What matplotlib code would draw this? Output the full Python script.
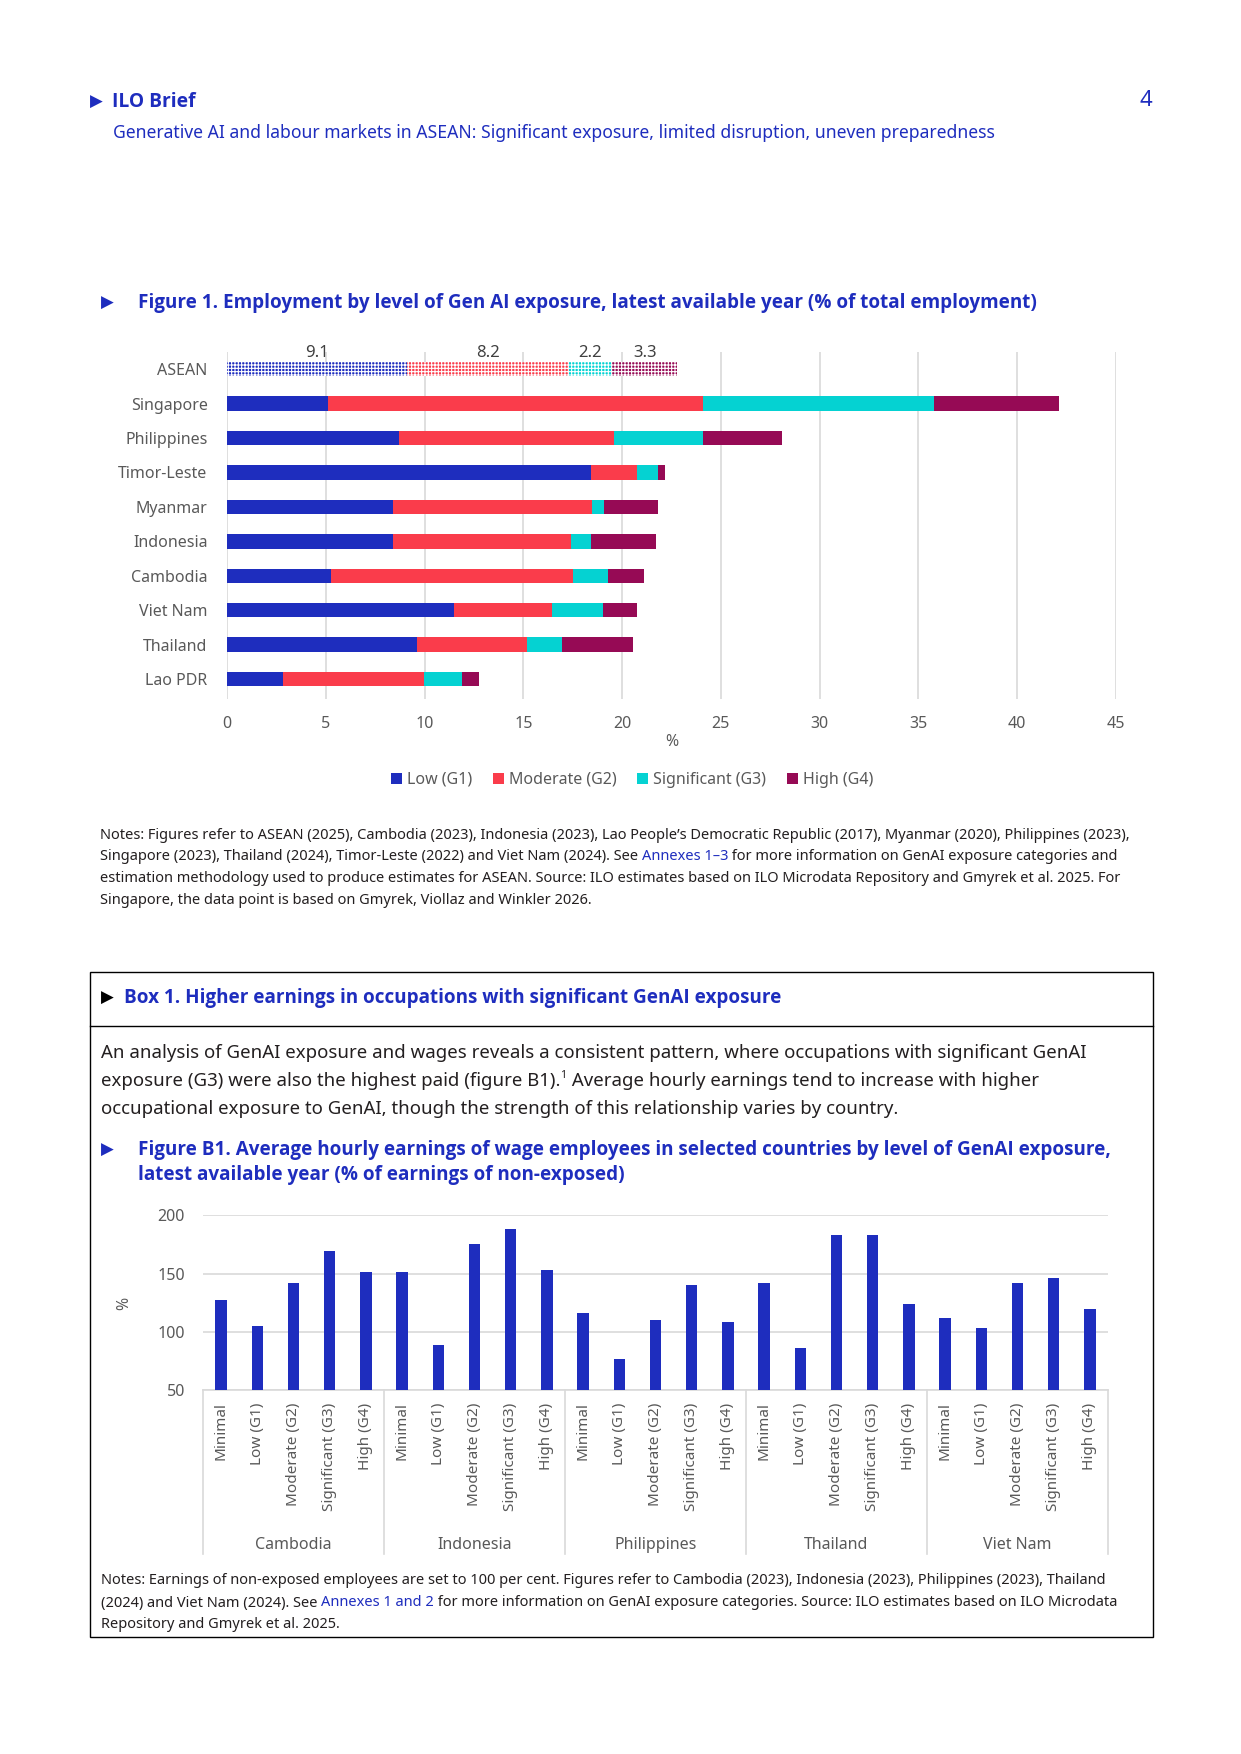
import numpy as np
import matplotlib
matplotlib.use("Agg")
import matplotlib.pyplot as plt
from matplotlib.patches import Patch, Rectangle
from matplotlib.lines import Line2D

plt.rcParams["font.family"] = ["Noto Sans", "DejaVu Sans"]
plt.rcParams["hatch.linewidth"] = 0.8

#
# Data
#

countries = ["ASEAN", "Singapore", "Philippines", "Timor-Leste", "Myanmar",
             "Indonesia", "Cambodia", "Viet Nam", "Thailand", "Lao PDR"]
low_g1 = [9.1, 5.1, 8.7, 18.45, 8.4, 8.4, 5.25, 11.5, 9.6, 2.85]
moderate_g2 = [8.2, 19.0, 10.9, 2.3, 10.1, 9.0, 12.25, 4.95, 5.6, 7.1]
significant_g3 = [2.2, 11.7, 4.5, 1.05, 0.6, 1.05, 1.8, 2.6, 1.75, 1.95]
high_g4 = [3.3, 6.3, 4.0, 0.35, 2.7, 3.25, 1.8, 1.7, 3.6, 0.85]
series_names = ["Low (G1)", "Moderate (G2)", "Significant (G3)", "High (G4)"]

b1_countries = ["Cambodia", "Indonesia", "Philippines", "Thailand", "Viet Nam"]
b1_levels = ["Minimal", "Low (G1)", "Moderate (G2)", "Significant (G3)", "High (G4)"]
b1_cambodia = [127, 105, 142, 169, 151]
b1_indonesia = [151, 88.5, 175, 188, 153]
b1_philippines = [116, 76.5, 110, 140, 108]
b1_thailand = [142, 86.5, 183, 183, 124]
b1_vietnam = [112, 103, 141.5, 146.5, 119.5]

# Colours
blue = "#1E2DBE"
red = "#FA3C4B"
cyan = "#05D2D2"
purple = "#960A55"
seg_colors = [blue, red, cyan, purple]
grey_text = "#595959"
grid_grey = "#D9D9D9"
body = "#231F20"

# bold headings (Noto Sans has no bold face here)
bold_font = ["Open Sans", "DejaVu Sans"]

W, H = 1241, 1754
fig = plt.figure(figsize=(W / 100, H / 100), dpi=100)


def fx(x):
    return x / W


def fy(y):
    return 1 - y / H


def ax_rect(left, top, right, bottom):
    return [fx(left), fy(bottom), (right - left) / W, (bottom - top) / H]


renderer = fig.canvas.get_renderer()


def text_row(x, y, pieces, size, **kw):
    # draw coloured pieces of one line one after another
    # a piece may carry its own size and a vertical shift (for superscripts)
    for p in pieces:
        s, c = p[0], p[1]
        sz = p[2] if len(p) > 2 else size
        dy = p[3] if len(p) > 3 else 0
        t = fig.text(fx(x), fy(y - dy), s, color=c, fontsize=sz, va="center", ha="left", **kw)
        bb = t.get_window_extent(renderer=renderer)
        x += bb.width


def heading(x, y, s, size=13.6, color=blue):
    fig.text(fx(x), fy(y), s, color=color, fontsize=size, weight="bold", va="center", family=bold_font)


def arrow(x, y, color=blue):
    fig.text(fx(x), fy(y), "\u25B6", color=color, fontsize=12, va="center", family=["DejaVu Sans"])


#
# Header
#
arrow(90, 102)
heading(112, 102, "ILO Brief", size=13.9)
fig.text(fx(1152), fy(100), "4", color=blue, fontsize=16, va="center", ha="right")
fig.text(fx(113), fy(133),
         "Generative AI and labour markets in ASEAN: Significant exposure, limited disruption, uneven preparedness",
         color=blue, fontsize=12.65, va="center")

#
# Figure 1
#
arrow(101, 303)
heading(138, 303, "Figure 1. Employment by level of Gen AI exposure, latest available year (% of total employment)")

ax1 = fig.add_axes(ax_rect(227, 352, 1116, 699))
ypos = np.arange(len(countries))
segments = [low_g1, moderate_g2, significant_g3, high_g4]
left = np.zeros(len(countries))
for vals, c in zip(segments, seg_colors):
    vals = np.array(vals)
    ax1.barh(ypos[1:], vals[1:], left=left[1:], height=0.42, color=c, linewidth=0, zorder=3)
    ax1.barh(ypos[0], vals[0], left=left[0], height=0.42, color=c, hatch="+++++",
             edgecolor="white", linewidth=0, zorder=3)
    ax1.text(left[0] + vals[0] / 2, -0.24, "{:.1f}".format(vals[0]), ha="center", va="bottom",
             fontsize=12, color="#404040", clip_on=False)
    left = left + vals

ax1.set_xlim(0, 45)
ax1.set_ylim(9.58, -0.5)
ax1.set_xticks(np.arange(0, 46, 5))
ax1.set_yticks(ypos)
ax1.set_yticklabels(countries)
ax1.grid(axis="x", color=grid_grey, linewidth=1.2, zorder=0)
ax1.set_axisbelow(True)
for sp in ax1.spines.values():
    sp.set_visible(False)
ax1.tick_params(axis="y", length=0, pad=14, labelsize=11.5, labelcolor=grey_text)
ax1.tick_params(axis="x", length=0, pad=12, labelsize=11.5, labelcolor=grey_text)
ax1.set_xlabel("%", fontsize=11.5, color=grey_text, labelpad=2)

handles = [Patch(facecolor=c, edgecolor="none") for c in seg_colors]
fig.legend(handles, series_names, loc="center", bbox_to_anchor=(fx(632), fy(780)), ncol=4,
           frameon=False, fontsize=11.5, labelcolor=grey_text, handlelength=0.7, handleheight=0.7,
           handletextpad=0.3, columnspacing=1.3)

notes1 = [
    [("Notes: Figures refer to ASEAN (2025), Cambodia (2023), Indonesia (2023), Lao People\u2019s Democratic Republic (2017), Myanmar (2020), Philippines (2023),", body)],
    [("Singapore (2023), Thailand (2024), Timor-Leste (2022) and Viet Nam (2024). See ", body),
     ("Annexes 1\u20133", blue),
     (" for more information on GenAI exposure categories and", body)],
    [("estimation methodology used to produce estimates for ASEAN. Source: ILO estimates based on ILO Microdata Repository and Gmyrek et al. 2025. For", body)],
    [("Singapore, the data point is based on Gmyrek, Viollaz and Winkler 2026.", body)],
]
for i, line in enumerate(notes1):
    text_row(100, 835 + i * 22, line, 10.5)

#
# Box 1
#
fig.add_artist(Rectangle((fx(90), fy(1637)), (1153 - 90) / W, (1637 - 972) / H,
                         transform=fig.transFigure, fill=False, edgecolor="black", linewidth=1))
fig.add_artist(Line2D([fx(90), fx(1153)], [fy(1026), fy(1026)], transform=fig.transFigure,
                      color="black", linewidth=1))
arrow(101, 998, color="black")
heading(124, 998, "Box 1. Higher earnings in occupations with significant GenAI exposure")

para = [
    [("An analysis of GenAI exposure and wages reveals a consistent pattern, where occupations with significant GenAI", body)],
    [("exposure (G3) were also the highest paid (figure B1).", body), ("1", body, 7.5, 5),
     (" Average hourly earnings tend to increase with higher", body)],
    [("occupational exposure to GenAI, though the strength of this relationship varies by country.", body)],
]
for i, line in enumerate(para):
    text_row(101, 1053 + i * 28, line, 13.4)

arrow(101, 1150)
heading(138, 1150, "Figure B1. Average hourly earnings of wage employees in selected countries by level of GenAI exposure,")
heading(138, 1175, "latest available year (% of earnings of non-exposed)")

ax2 = fig.add_axes(ax_rect(203, 1215, 1108, 1390))
b1_values = b1_cambodia + b1_indonesia + b1_philippines + b1_thailand + b1_vietnam
xpos = np.arange(len(b1_values))
ax2.bar(xpos, b1_values, width=0.32, color=blue, zorder=3)
ax2.set_xlim(-0.5, len(b1_values) - 0.5)
ax2.set_ylim(50, 200.3)
ax2.set_yticks([50, 100, 150, 200])
ax2.grid(axis="y", color=grid_grey, linewidth=1.2, zorder=0)
ax2.set_axisbelow(True)
for name, sp in ax2.spines.items():
    sp.set_visible(name == "bottom")
ax2.spines["bottom"].set_color(grid_grey)
ax2.spines["bottom"].set_linewidth(1.2)
ax2.set_xticks(xpos)
ax2.set_xticklabels(b1_levels * len(b1_countries), rotation=90, va="top")
ax2.tick_params(axis="x", length=0, pad=9, labelsize=11, labelcolor=grey_text)
ax2.tick_params(axis="y", length=0, pad=13, labelsize=11.5, labelcolor=grey_text)
fig.text(fx(124), fy(1303), "%", rotation=90, fontsize=11.5, color=grey_text, ha="center", va="center")

sep_bottom = -(1554 - 1390) / (1390 - 1215)
for b in np.arange(-0.5, len(b1_values), 5):
    ax2.plot([b, b], [0, sep_bottom], transform=ax2.get_xaxis_transform(), color=grid_grey,
             linewidth=1.2, clip_on=False)
label_y = -(1545 - 1390) / (1390 - 1215)
for i, c in enumerate(b1_countries):
    ax2.text(i * 5 + 2, label_y, c, transform=ax2.get_xaxis_transform(), ha="center", va="center",
             fontsize=11.5, color=grey_text)

notes2 = [
    [("Notes: Earnings of non-exposed employees are set to 100 per cent. Figures refer to Cambodia (2023), Indonesia (2023), Philippines (2023), Thailand", body)],
    [("(2024) and Viet Nam (2024). See ", body), ("Annexes 1 and 2", blue),
     (" for more information on GenAI exposure categories. Source: ILO estimates based on ILO Microdata", body)],
    [("Repository and Gmyrek et al. 2025.", body)],
]
for i, line in enumerate(notes2):
    text_row(101, 1581 + i * 22, line, 10.5)

fig.savefig("out.png", dpi=100)
